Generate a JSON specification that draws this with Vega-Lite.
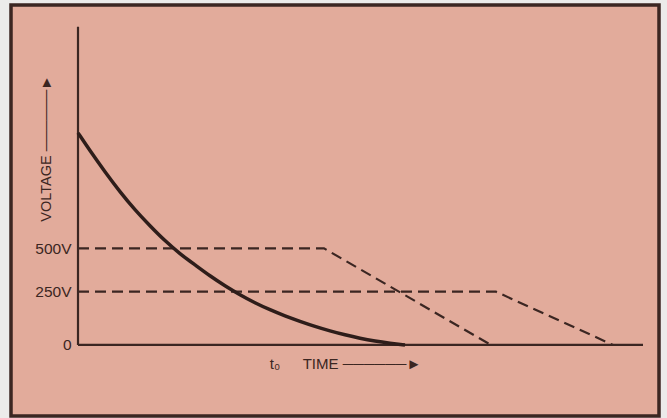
{
  "$schema": "https://vega.github.io/schema/vega-lite/v6.json",
  "width": 648,
  "height": 411,
  "autosize": {"type": "none"},
  "padding": {"left": 11, "top": 5, "right": 8, "bottom": 2},
  "background": "#ecebea",
  "config": {
    "view": {"fill": "#e2ab9b", "stroke": "#3b2622", "strokeWidth": 3.5},
    "font": "Liberation Sans"
  },
  "datasets": {
    "curves": [
      {"series": "discharge", "t": 0, "v": 1248},
      {"series": "discharge", "t": 12, "v": 1126},
      {"series": "discharge", "t": 27, "v": 985},
      {"series": "discharge", "t": 42, "v": 854},
      {"series": "discharge", "t": 57, "v": 738},
      {"series": "discharge", "t": 72, "v": 638},
      {"series": "discharge", "t": 87, "v": 545},
      {"series": "discharge", "t": 102, "v": 467},
      {"series": "discharge", "t": 117, "v": 402},
      {"series": "discharge", "t": 132, "v": 338},
      {"series": "discharge", "t": 147, "v": 282},
      {"series": "discharge", "t": 162, "v": 233},
      {"series": "discharge", "t": 177, "v": 190},
      {"series": "discharge", "t": 192, "v": 154},
      {"series": "discharge", "t": 207, "v": 123},
      {"series": "discharge", "t": 222, "v": 97},
      {"series": "discharge", "t": 237, "v": 73},
      {"series": "discharge", "t": 252, "v": 53},
      {"series": "discharge", "t": 267, "v": 36},
      {"series": "discharge", "t": 282, "v": 22},
      {"series": "discharge", "t": 297, "v": 11.6},
      {"series": "discharge", "t": 312, "v": 4.6},
      {"series": "discharge", "t": 327, "v": 0}
    ],
    "dashed": [
      {"series": "500V", "t": 0, "v": 500},
      {"series": "500V", "t": 246, "v": 500},
      {"series": "500V", "t": 413, "v": 0},
      {"series": "250V", "t": 0, "v": 250},
      {"series": "250V", "t": 418, "v": 250},
      {"series": "250V", "t": 535, "v": 0}
    ],
    "axes": [
      {"axis": "voltage", "t1": 0, "t2": 0, "v1": 0, "v2": 2000},
      {"axis": "time", "t1": 0, "t2": 565, "v1": 0, "v2": 0}
    ]
  },
  "layer": [
    {
      "data": {"name": "axes"},
      "mark": {"type": "rule", "color": "#3b2622", "strokeWidth": 2.2},
      "encoding": {
        "x": {
          "field": "t1", "type": "quantitative",
          "scale": {"type": "linear", "domain": [-67, 581], "nice": false, "zero": false},
          "axis": {
            "orient": "bottom", "offset": -71, "domain": false, "ticks": false, "labels": false, "grid": false,
            "title": "t\u2080\u2003\u2002TIME \u2500\u2500\u2500\u2500\u2500\u2500\u25ba",
            "titleX": 334, "titleY": 18, "titleAlign": "center", "titleBaseline": "middle",
            "titleFont": "Liberation Sans", "titleFontSize": 15, "titleFontWeight": "normal", "titleColor": "#3b2622"
          }
        },
        "x2": {"field": "t2"},
        "y": {
          "field": "v1", "type": "quantitative",
          "scale": {"type": "pow", "exponent": 0.86, "domain": [-350, 2160], "nice": false, "zero": false},
          "axis": {
            "orient": "left", "offset": -67, "domain": false, "ticks": false, "tickSize": 0, "grid": false,
            "values": [0, 250, 500],
            "labelExpr": "datum.value == 0 ? '0' : datum.value + 'V'",
            "labelPadding": 7, "labelFont": "Liberation Sans", "labelFontSize": 15.5, "labelColor": "#3b2622",
            "labelOverlap": false, "labelFlush": false,
            "title": "VOLTAGE \u2500\u2500\u2500\u2500\u2500\u2500\u25ba",
            "titleAngle": 270, "titleX": -32, "titleY": 143, "titleAlign": "center", "titleBaseline": "middle",
            "titleFont": "Liberation Sans", "titleFontSize": 14.5, "titleFontWeight": "normal", "titleColor": "#3b2622"
          }
        },
        "y2": {"field": "v2"}
      }
    },
    {
      "data": {"name": "dashed"},
      "mark": {"type": "line", "color": "#3b2622", "strokeWidth": 2.2, "strokeDash": [11, 6]},
      "encoding": {
        "x": {"field": "t", "type": "quantitative"},
        "y": {"field": "v", "type": "quantitative"},
        "detail": {"field": "series"}
      }
    },
    {
      "data": {"name": "curves"},
      "mark": {"type": "line", "color": "#2e1d1a", "strokeWidth": 3.5, "interpolate": "basis"},
      "encoding": {
        "x": {"field": "t", "type": "quantitative"},
        "y": {"field": "v", "type": "quantitative"}
      }
    }
  ]
}
